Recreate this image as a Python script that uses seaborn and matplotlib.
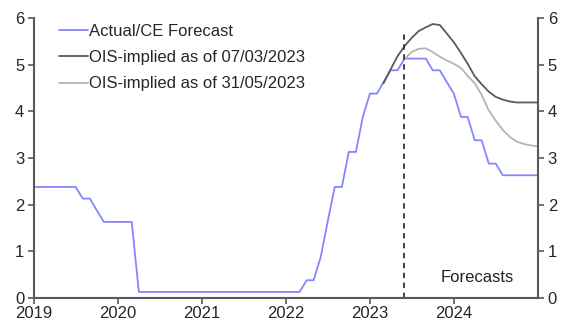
import numpy as np
import pandas as pd
import seaborn as sns
import matplotlib.pyplot as plt
import matplotlib.dates as mdates

sns.set_theme(style="white")
plt.rcParams['font.family'] = ['Liberation Sans', 'DejaVu Sans']

# Monthly policy rate (mid-point), Jan 2019 - Jan 2025, incl. CE forecast
actual_dates = pd.date_range("2019-01-01", "2025-01-01", freq="MS")
actual_vals = (
    [2.38] * 7 + [2.13, 2.13, 1.88, 1.63, 1.63]            # 2019
    + [1.63, 1.63, 1.63] + [0.13] * 9                       # 2020
    + [0.13] * 12                                           # 2021
    + [0.13, 0.13, 0.13, 0.38, 0.38, 0.88, 1.63, 2.38,
       2.38, 3.13, 3.13, 3.88]                              # 2022
    + [4.38, 4.38, 4.63, 4.88, 4.88, 5.13, 5.13, 5.13,
       5.13, 4.88, 4.88, 4.63]                              # 2023
    + [4.38, 3.88, 3.88, 3.38, 3.38, 2.88, 2.88, 2.63,
       2.63, 2.63, 2.63, 2.63]                              # 2024
    + [2.63]                                                # 2025
)

# OIS-implied path as of 07/03/2023
ois_mar_dates = pd.date_range("2023-03-01", "2025-01-01", freq="MS")
ois_mar_vals = [4.60, 4.90, 5.18, 5.40, 5.57, 5.72, 5.80, 5.87, 5.85, 5.67,
                5.48, 5.25, 5.02, 4.75, 4.58, 4.42, 4.31, 4.25, 4.21, 4.19,
                4.19, 4.19, 4.19]

# OIS-implied path as of 31/05/2023
ois_may_dates = pd.date_range("2023-06-01", "2025-01-01", freq="MS")
ois_may_vals = [5.12, 5.27, 5.34, 5.35, 5.27, 5.17, 5.09, 5.02, 4.93, 4.76,
                4.60, 4.35, 4.02, 3.80, 3.60, 3.45, 3.35, 3.30, 3.27, 3.25]

forecast_start = pd.Timestamp("2023-05-31")
year_ticks = [pd.Timestamp(f"{y}-01-01") for y in range(2019, 2025)]

fig = plt.figure(figsize=(5.72, 3.25), dpi=100)
ax = fig.add_axes([34 / 572, 1 - 298 / 325, 504 / 572, 280 / 325])

sns.lineplot(x=actual_dates, y=actual_vals, ax=ax, color="#8585ff", lw=1.3,
             label="Actual/CE Forecast")
sns.lineplot(x=ois_mar_dates, y=ois_mar_vals, ax=ax, color="#5a5a5a", lw=1.3,
             label="OIS-implied as of 07/03/2023")
sns.lineplot(x=ois_may_dates, y=ois_may_vals, ax=ax, color="#b4b4b4", lw=1.3,
             label="OIS-implied as of 31/05/2023")

ax.plot([forecast_start, forecast_start], [0, 5.75], ls=(0, (3, 2.5)),
        color="#333333", lw=1.3)
ax.text(pd.Timestamp("2024-04-10"), 0.43, "Forecasts", ha="center",
        va="center", fontsize=12, color="#222222")

ax.set_xlim(pd.Timestamp("2019-01-01"), pd.Timestamp("2025-01-01"))
ax.set_ylim(0, 6)
ax.set_yticks(range(0, 7))
ax.set_xticks(year_ticks)
ax.xaxis.set_major_formatter(mdates.DateFormatter("%Y"))
ax.set_xlabel("")
ax.set_ylabel("")

for side in ["left", "right", "bottom"]:
    ax.spines[side].set_visible(True)
    ax.spines[side].set_color("#595959")
    ax.spines[side].set_linewidth(1.5)
ax.spines["top"].set_visible(False)

ax.tick_params(axis="y", which="both", left=True, right=True, labelleft=True,
               labelright=True, direction="out", length=4, width=1.2,
               color="#595959", labelsize=12, pad=3)
ax.tick_params(axis="x", bottom=True, direction="out", length=4, width=1.2,
               color="#595959", labelsize=12, pad=2)
ax.grid(False)

ax.legend(loc="upper left", bbox_to_anchor=(0.037, 1.003), frameon=False,
          fontsize=12, handlelength=1.7, handletextpad=0.1, labelspacing=0.68,
          borderaxespad=0)

fig.savefig("out.png", dpi=100)
